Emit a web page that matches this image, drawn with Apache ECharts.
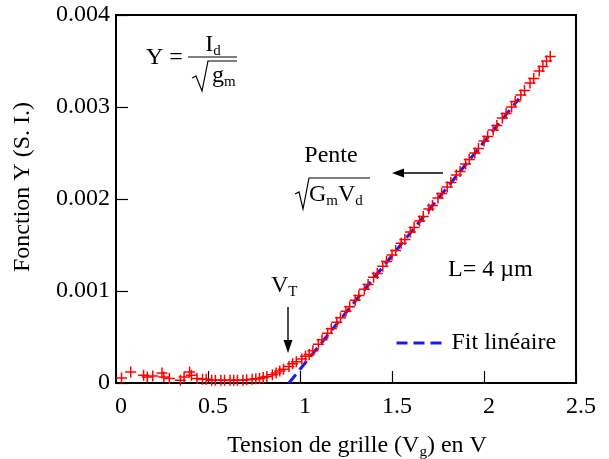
<!DOCTYPE html>
<html>
<head>
<meta charset="utf-8">
<script src="https://cdn.jsdelivr.net/npm/echarts@6/dist/echarts.min.js"></script>
<style>
html,body{margin:0;padding:0;background:#fff;}
#chart{width:609px;height:459px;}
</style>
</head>
<body>
<div id="chart"></div>
<script>
// ---- data ----
const gateVoltage = [
  0.03,0.08,0.15,0.17,0.20,0.25,0.26,0.29,0.35,0.37,
  0.40,0.41,0.44,0.47,0.49,0.52,0.54,0.57,0.59,0.62,
  0.64,0.66,0.69,0.71,0.74,0.76,0.78,0.80,0.82,0.85,
  0.87,0.89,0.91,0.94,0.96,0.98,1.01,1.03,1.05,1.07,
  1.10,1.12,1.15,1.17,1.20,1.22,1.25,1.27,1.30,1.32,
  1.35,1.37,1.40,1.42,1.45,1.47,1.50,1.52,1.55,1.57,
  1.60,1.62,1.65,1.67,1.70,1.72,1.75,1.77,1.80,1.82,
  1.85,1.87,1.90,1.92,1.95,1.97,2.00,2.02,2.05,2.07,
  2.10,2.12,2.15,2.17,2.20,2.22,2.25,2.27,2.30,2.32,
  2.34,2.36
];
const yFunction = [
  0.000055,0.00012,0.000085,0.000065,0.000075,0.00011,0.000065,0.00005,0.00003,0.000065,
  0.00012,0.000085,0.00005,0.00004,0.00004,0.00003,0.00003,0.00003,0.00003,0.00003,
  0.00003,0.00003,0.00003,0.000035,0.00004,0.000045,0.00005,0.00006,0.00007,0.00009,
  0.00011,0.00013,0.00015,0.00018,0.00021,0.00023,0.00026,0.00029,0.00031,0.00035,
  0.00042,0.00047,0.00054,0.00059,0.00066,0.00071,0.00078,0.00083,0.00090,0.00095,
  0.00102,0.00107,0.00115,0.00119,0.00127,0.00132,0.00139,0.00144,0.00152,0.00156,
  0.00164,0.00169,0.00176,0.00181,0.00189,0.00193,0.00201,0.00206,0.00213,0.00218,
  0.00226,0.00230,0.00238,0.00243,0.00250,0.00255,0.00263,0.00268,0.00275,0.00280,
  0.00288,0.00293,0.00300,0.00306,0.00313,0.00318,0.00326,0.00331,0.00339,0.00344,
  0.00350,0.00355
];
const fitX = [0.94, 2.19];
const fitY = [0, 0.00309];
const xTickLabels = ['0','0.5','1','1.5','2','2.5'];
const yTickLabels = ['0','0.001','0.002','0.003','0.004'];
const fitName = 'Fit linéaire';

// ---- chart ----
const FONT = '"Liberation Serif", "Times New Roman", serif';
const FS = 24;
const chart = echarts.init(document.getElementById('chart'), null, {renderer:'canvas'});

const measData = gateVoltage.map((x,i)=>[x, yFunction[i]]);
const fitData = fitX.map((x,i)=>[x, fitY[i]]);

const richSub = {
  n: {fontFamily: FONT, fontSize: FS, lineHeight: 28, fill:'#000', color:'#000'},
  s: {fontFamily: FONT, fontSize: 15, lineHeight: 12, verticalAlign: 'bottom', fill:'#000', color:'#000'}
};
function txt(x, y, text, align, extra) {
  return Object.assign({
    type: 'text', x: x, y: y, silent: true,
    style: {text: text, font: FS + 'px ' + FONT, fill: '#000', align: align || 'left', verticalAlign: 'middle', rich: richSub}
  }, extra || {});
}
function poly(points, w) {
  return {type:'polyline', silent:true, shape:{points: points}, style:{stroke:'#000', lineWidth: w || 1.2, fill: null}};
}
function seg(x1,y1,x2,y2,w){
  return {type:'line', silent:true, shape:{x1:x1,y1:y1,x2:x2,y2:y2}, style:{stroke:'#000', lineWidth:w||1.2}};
}
function tri(points){
  return {type:'polygon', silent:true, shape:{points:points}, style:{fill:'#000'}};
}

const option = {
  animation: false,
  backgroundColor: '#fff',
  grid: {left:116, top:15, right:33, bottom:76, show:true, borderColor:'#000', borderWidth:2, containLabel:false},
  xAxis: {
    type:'value', min:0, max:2.5, interval:0.5,
    axisLine:{show:true, lineStyle:{color:'#000', width:2}},
    axisTick:{show:true, inside:true, length:12, lineStyle:{color:'#000', width:1.2}},
    splitLine:{show:false},
    axisLabel:{margin:12, color:'#000', fontFamily:FONT, fontSize:FS, padding:[0,0,0,10],
      formatter:(v)=>xTickLabels[Math.round(v/0.5)]}
  },
  yAxis: {
    type:'value', min:0, max:0.004, interval:0.001,
    axisLine:{show:true, lineStyle:{color:'#000', width:2}},
    axisTick:{show:true, inside:true, length:12, lineStyle:{color:'#000', width:1.2}},
    splitLine:{show:false},
    axisLabel:{margin:6, color:'#000', fontFamily:FONT, fontSize:FS,
      formatter:(v)=>yTickLabels[Math.round(v/0.001)]}
  },
  legend: {
    data:[fitName], left:390, top:326, itemWidth:50, itemHeight:14, itemGap:6,
    itemStyle:{color:'rgba(0,0,0,0)', borderWidth:0, opacity:0},
    lineStyle:{color:'#1a1ae6', width:3, type:[11,6], opacity:1},
    textStyle:{fontFamily:FONT, fontSize:FS, color:'#000'}, selectedMode:false
  },
  series: [
    {
      name:'mesure', type:'scatter', data: measData,
      symbol:'path://M0,5L10,5M5,0L5,10', symbolSize:11,
      itemStyle:{color:'rgba(0,0,0,0)', borderColor:'#ff0000', borderWidth:1.5, opacity:1},
      clip:false, z:3
    },
    {
      name: fitName, type:'line', data: fitData, showSymbol:false, symbol:'none',
      lineStyle:{color:'#1a1ae6', width:3, type:[11,6]},
      itemStyle:{color:'#1a1ae6'}, z:2
    }
  ],
  graphic: [
    // axis titles
    txt(23, 187, 'Fonction Y (S. I.)', 'center', {rotation: Math.PI/2}),
    txt(357, 446, '{n|Tension de grille (V}{s|g}{n|) en V}', 'center'),
    // formula Y = Id / sqrt(gm)
    txt(146, 58, 'Y =', 'left'),
    txt(213, 45, '{n|I}{s|d}', 'center'),
    seg(188, 57, 237, 57, 1.2),
    poly([[192,78],[196,76],[202,91],[208,61],[237,61]], 1.2),
    txt(212, 76, '{n|g}{s|m}', 'left'),
    // Pente sqrt(Gm Vd)
    txt(331, 156, 'Pente', 'center'),
    poly([[295,194],[299,192],[303,209],[309,178],[370,178]], 1.2),
    txt(309, 195, '{n|G}{s|m}{n|V}{s|d}', 'left'),
    seg(443, 173, 400, 173, 1.4),
    tri([[392,173],[404,168.5],[404,177.5]]),
    // V_T
    txt(271, 286, '{n|V}{s|T}', 'left'),
    seg(288, 307, 288, 342, 1.4),
    tri([[288,353],[283.5,340],[292.5,340]]),
    // L = 4 µm
    txt(448, 270, 'L= 4 µm', 'left')
  ]
};
chart.setOption(option);
</script>
</body>
</html>
